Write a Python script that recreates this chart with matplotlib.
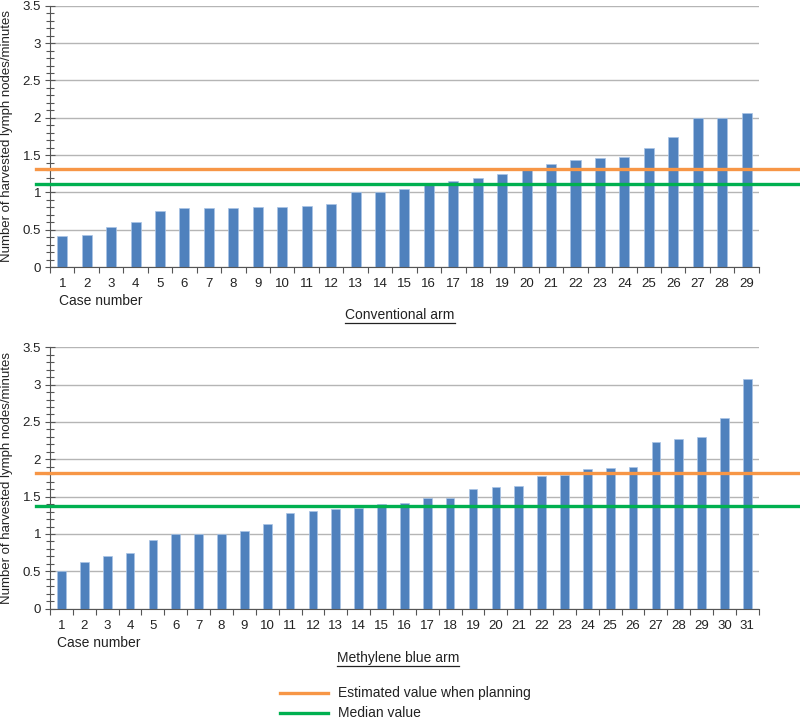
import matplotlib
matplotlib.use("Agg")
import matplotlib.pyplot as plt
from matplotlib.lines import Line2D
import numpy as np

plt.rcParams['font.family'] = ['Liberation Sans', 'DejaVu Sans']

# ---- data ----
conv_values = [0.42, 0.43, 0.54, 0.60, 0.75, 0.79, 0.79, 0.79, 0.80, 0.80,
               0.82, 0.84, 1.00, 1.00, 1.05, 1.11, 1.15, 1.20, 1.245, 1.31,
               1.38, 1.43, 1.46, 1.48, 1.59, 1.74, 2.00, 2.00, 2.07]
conv_estimated = 1.32
conv_median = 1.11

mb_values = [0.50, 0.62, 0.70, 0.74, 0.92, 1.00, 1.00, 1.00, 1.04, 1.13,
             1.28, 1.31, 1.33, 1.35, 1.40, 1.42, 1.48, 1.48, 1.60, 1.63,
             1.64, 1.78, 1.79, 1.87, 1.88, 1.90, 2.23, 2.27, 2.30, 2.55, 3.07]
mb_estimated = 1.81
mb_median = 1.38

y_ticks = [0, 0.5, 1, 1.5, 2, 2.5, 3, 3.5]
y_tick_labels = ['0', '0.5', '1', '1.5', '2', '2.5', '3', '3.5']
ylabel = 'Number of harvested lymph nodes/minutes'
xlabel = 'Case number'
titles = ['Conventional arm', 'Methylene blue arm']
legend_labels = ['Estimated value when planning', 'Median value']

BAR = '#4F81BD'
ORANGE = '#F79646'
GREEN = '#00B050'
GRID = '#B5B5B5'
SPINE = '#555555'
TXT = '#222222'
FS = 9.5

fig = plt.figure(figsize=(8, 7.22), dpi=100)
ax1 = fig.add_axes([0.0625, 0.630, 0.886, 0.362])
ax2 = fig.add_axes([0.0625, 0.157, 0.886, 0.362])


def draw(ax, values, est, med, width):
    n = len(values)
    x = np.arange(1, n + 1)
    ax.bar(x, values, width=width, color=BAR, edgecolor='#A9C4E6', linewidth=0.5, zorder=2)
    ax.set_xlim(0.5, n + 0.5)
    ax.set_ylim(0, 3.5)
    ax.set_yticks(y_ticks)
    ax.set_yticklabels(y_tick_labels)
    ax.set_yticks(np.arange(0, 3.51, 0.1), minor=True)
    ax.set_xticks(x)
    ax.set_xticklabels([str(i) for i in x])
    ax.set_xticks(np.arange(0.5, n + 0.6, 1), minor=True)
    ax.tick_params(axis='x', which='major', length=0, labelsize=FS, colors=TXT, pad=8)
    ax.tick_params(axis='x', which='minor', length=4, direction='out', color=SPINE, width=0.8)
    ax.tick_params(axis='y', which='major', length=7, direction='inout', labelsize=FS,
                   colors=TXT, color=SPINE, width=0.8, pad=3)
    ax.tick_params(axis='y', which='minor', length=6, direction='inout', color=SPINE, width=0.8)
    ax.yaxis.grid(True, which='major', color=GRID, linewidth=1, zorder=0)
    ax.set_axisbelow(True)
    for s in ['top', 'right']:
        ax.spines[s].set_visible(False)
    for s in ['left', 'bottom']:
        ax.spines[s].set_color(SPINE)
        ax.spines[s].set_linewidth(0.8)
    ax.axhline(est, xmin=-0.02, xmax=1.06, color=ORANGE, linewidth=2.4, clip_on=False, zorder=3)
    ax.axhline(med, xmin=-0.02, xmax=1.06, color=GREEN, linewidth=2.4, clip_on=False, zorder=3)
    ax.set_ylabel(ylabel, fontsize=FS, color=TXT, labelpad=6)
    ax.yaxis.set_label_coords(-0.052, 0.5)


draw(ax1, conv_values, conv_estimated, conv_median, 0.41)
draw(ax2, mb_values, mb_estimated, mb_median, 0.38)

# Case number labels
fig.text(59 / 800, 1 - 301 / 722, xlabel, fontsize=FS + 0.5, color=TXT, va='center', ha='left')
fig.text(57 / 800, 1 - 643 / 722, xlabel, fontsize=FS + 0.5, color=TXT, va='center', ha='left')

# underlined titles
t1 = fig.text(400 / 800, 1 - 315 / 722, titles[0], fontsize=FS + 0.5, color=TXT, ha='center', va='center')
t2 = fig.text(398 / 800, 1 - 658 / 722, titles[1], fontsize=FS + 0.5, color=TXT, ha='center', va='center')
fig.canvas.draw()
r = fig.canvas.get_renderer()
for t in (t1, t2):
    bb = t.get_window_extent(r).transformed(fig.transFigure.inverted())
    fig.add_artist(Line2D([bb.x0, bb.x1], [bb.y0 - 0.002, bb.y0 - 0.002],
                          color=TXT, linewidth=0.9, transform=fig.transFigure))

# legend
for yy, col, lab in [(693, ORANGE, legend_labels[0]), (713, GREEN, legend_labels[1])]:
    yf = 1 - yy / 722
    fig.add_artist(Line2D([280 / 800, 328 / 800], [yf, yf], color=col, linewidth=2.4,
                          transform=fig.transFigure))
    fig.text(338 / 800, yf, lab, fontsize=FS + 0.5, color=TXT, va='center', ha='left')

fig.savefig('out.png', dpi=100)
